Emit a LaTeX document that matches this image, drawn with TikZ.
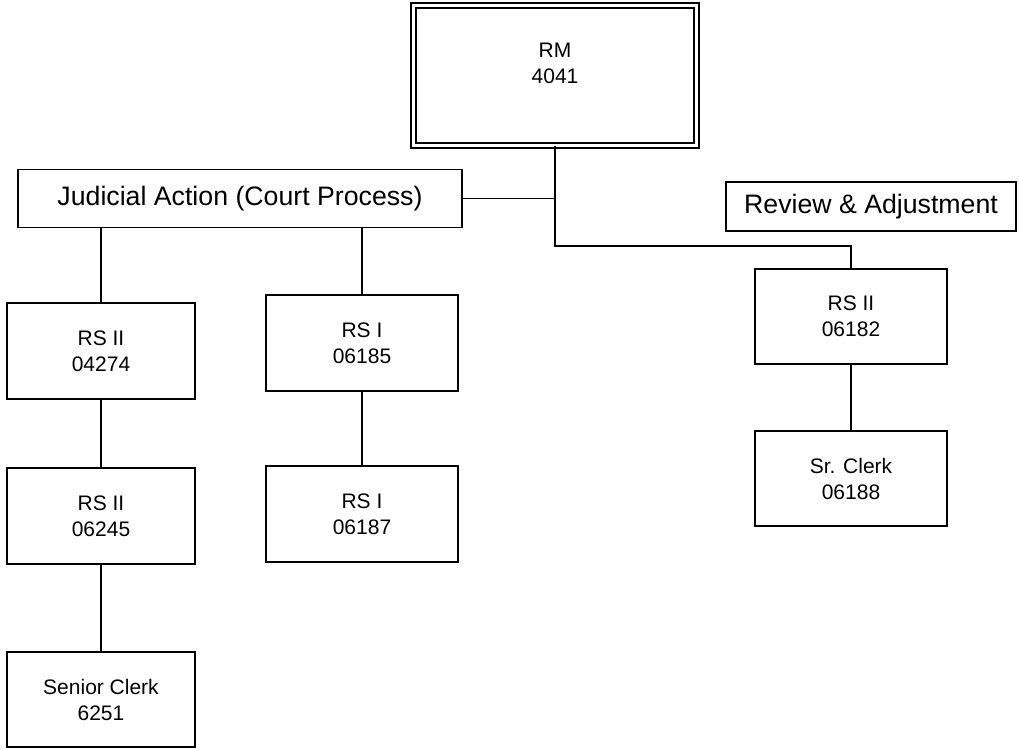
\documentclass[tikz,border=0pt]{standalone}
\usepackage{fontspec}
\setmainfont{Liberation Sans}
\begin{document}
\begin{tikzpicture}[x=1pt,y=-1pt,
  line width=1.7pt,
  unit/.style={draw, rectangle, inner sep=0pt, minimum width=192pt, minimum height=96pt,
    align=center, font=\fontsize{21}{26}\selectfont},
  headbox/.style={draw, rectangle, inner sep=0pt, align=center,
    font=\fontsize{26.7}{32}\selectfont},
  link/.style={draw, line width=1.7pt}]
\useasboundingbox (0,0) rectangle (1019,748);

% top manager box with double border
\node[draw, double, double distance=3.3pt, rectangle, inner sep=0pt,
      minimum width=283.5pt, minimum height=140pt] (rm) at (555,75.5) {};
\node[font=\fontsize{21}{26}\selectfont, align=center] (rmtext) at (555,63) {RM\\4041};

% section headings
\node[headbox, minimum width=444pt, minimum height=58pt] (judicial) at (240,198.5) {Judicial Action (Court Process)};
\node[headbox, minimum width=290pt, minimum height=49pt] (review) at (871,206.5) {Review \& Adjustment};

% staff positions
\node[unit, minimum width=188pt] (rsA) at (101,351) {RS II\\04274};
\node[unit, minimum width=188pt] (rsB) at (101,516) {RS II\\06245};
\node[unit, minimum width=188pt, minimum height=95pt] (clerkA) at (101,699.5) {Senior Clerk\\6251};
\node[unit] (rsC) at (362,343) {RS I\\06185};
\node[unit] (rsD) at (362,514) {RS I\\06187};
\node[unit, minimum height=95pt] (rsE) at (851,316.5) {RS II\\06182};
\node[unit, minimum height=95pt] (clerkB) at (851,478.5) {Sr. Clerk\\06188};

% connectors
\coordinate (bend) at (555,246);
\coordinate (jj) at (rm.south |- judicial.east);
\draw[link] (rm.south) -- (bend) -| (rsE.north);
\draw[link] (judicial.east) -- (jj);
\draw[link] (judicial.south -| rsA.north) -- (rsA.north);
\draw[link] (judicial.south -| rsC.north) -- (rsC.north);
\draw[link] (rsA.south) -- (rsB.north);
\draw[link] (rsB.south) -- (clerkA.north);
\draw[link] (rsC.south) -- (rsD.north);
\draw[link] (rsE.south) -- (clerkB.north);
\end{tikzpicture}
\end{document}
